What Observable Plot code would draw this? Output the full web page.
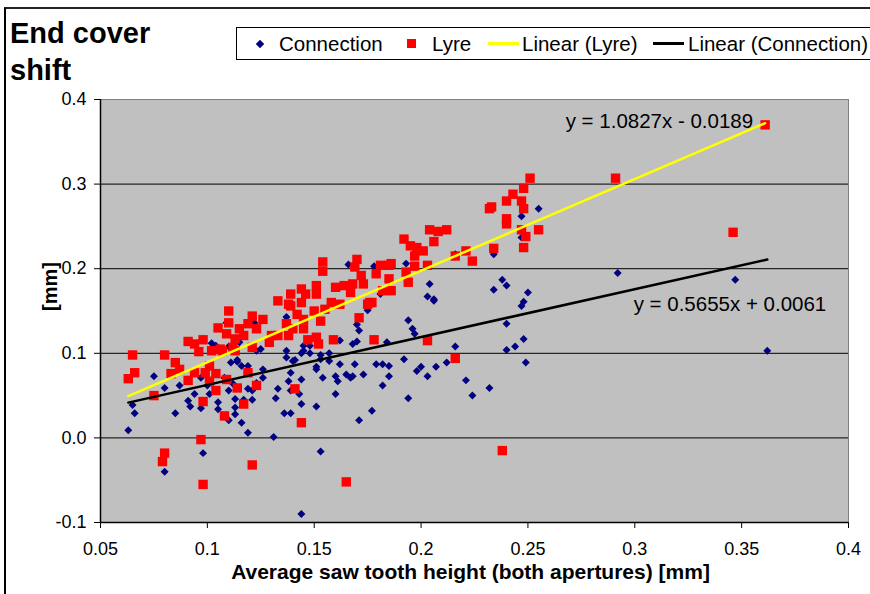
<!DOCTYPE html>
<html>
<head>
<meta charset="utf-8">
<script src="https://cdn.jsdelivr.net/npm/d3@7"></script>
<script src="https://cdn.jsdelivr.net/npm/@observablehq/plot@0.6"></script>
<style>
  body { margin: 0; background: #fff; }
  #wrap { position: relative; width: 870px; height: 594px; overflow: hidden;
          font-family: "Liberation Sans", Arial, sans-serif; color: #000; }
  #wrap svg.plot { position: absolute; left: 0; top: 0; }
  #border { position: absolute; left: 4px; top: 7px; width: 900px; height: 700px;
            border-left: 2px solid #000; border-top: 2px solid #222; }
  #title { position: absolute; left: 10px; top: 15px; font-weight: bold; font-size: 29px; line-height: 37px; }
  #legend { position: absolute; left: 236px; top: 27px; width: 640px; height: 31px;
            border: 1px solid #000; background: #fff; font-size: 20.5px; }
  #legend .it { position: absolute; top: 0; height: 31px; display: flex; align-items: center; white-space: nowrap; }
  .dia { width: 6px; height: 6px; background: #000080; transform: rotate(45deg); }
  .sq { width: 9px; height: 9px; background: #ff0000; }
  .ln { width: 31px; height: 2.5px; }
</style>
</head>
<body>
<div id="wrap">
  <div id="border"></div>
  <div id="title">End cover<br>shift</div>
  <div id="legend"></div>
</div>
<script>
// ---- data ----
const seriesNames = ["Connection", "Lyre", "Linear (Lyre)", "Linear (Connection)"];

const connX = [0.063,0.065,0.066,0.075,0.080,0.087,0.085,0.080,0.091,0.092,0.094,0.097,0.098,0.102,0.104,0.111,0.114,0.116,0.119,0.126,
  0.126,0.123,0.119,0.121,0.110,0.112,0.108,0.105,0.105,0.113,0.113,0.117,0.121,0.113,0.110,0.116,0.119,0.131,0.132,0.133,
  0.136,0.139,0.137,0.140,0.139,0.138,0.139,0.125,0.123,0.110,0.115,0.137,0.137,0.097,0.101,0.100,0.144,0.153,0.144,0.151,
  0.160,0.171,0.177,0.194,0.224,0.221,0.182,0.185,0.185,0.182,0.179,0.169,0.173,0.168,0.165,0.167,0.160,0.161,0.162,0.154,
  0.151,0.151,0.157,0.153,0.148,0.144,0.141,0.144,0.143,0.192,0.198,0.200,0.203,0.207,0.212,0.216,0.162,0.168,0.170,0.184,
  0.194,0.196,0.197,0.170,0.171,0.175,0.206,0.153,0.145,0.148,0.157,0.166,0.178,0.193,0.204,0.203,0.206,0.216,0.181,0.255,
  0.247,0.247,0.234,0.292,0.238,0.240,0.234,0.250,0.248,0.247,0.240,0.248,0.244,0.240,0.249,0.232,0.347,0.362,0.145,0.114,
  0.109,0.122];
const connY = [0.009,0.039,0.029,0.073,0.059,0.062,0.029,-0.040,0.044,0.037,0.052,0.035,-0.018,0.112,0.109,0.089,0.090,0.085,0.085,0.081,
  0.071,0.065,0.058,0.056,0.056,0.064,0.071,0.042,0.034,0.046,0.036,0.045,0.045,0.028,0.021,0.018,0.006,0.001,0.047,0.058,
  0.029,0.029,0.095,0.091,0.077,0.067,0.056,0.105,0.103,0.108,0.113,0.143,0.103,0.071,0.052,0.062,-0.090,-0.016,0.040,0.037,
  0.052,0.021,0.032,0.047,0.050,0.068,0.062,0.073,0.085,0.087,0.087,0.087,0.075,0.073,0.075,0.071,0.073,0.067,0.087,0.071,
  0.084,0.081,0.100,0.098,0.100,0.100,0.092,0.069,0.052,0.093,0.079,0.084,0.073,0.084,0.089,0.108,0.115,0.111,0.114,0.113,
  0.139,0.129,0.123,0.134,0.127,0.151,0.162,0.093,0.109,0.109,0.091,0.205,0.203,0.206,0.182,0.167,0.164,0.217,0.170,0.271,
  0.262,0.237,0.217,0.195,0.187,0.180,0.175,0.172,0.161,0.156,0.135,0.117,0.108,0.104,0.089,0.059,0.187,0.103,0.103,0.092,
  0.136,0.136];

const lyreX = [0.065,0.080,0.066,0.063,0.085,0.087,0.083,0.075,0.091,0.098,0.094,0.096,0.091,0.094,0.099,0.101,0.104,0.101,0.104,0.098,
  0.108,0.117,0.114,0.123,0.119,0.109,0.097,0.080,0.079,0.121,0.098,0.110,0.105,0.110,0.109,0.115,0.121,0.126,0.119,0.123,
  0.113,0.121,0.129,0.133,0.138,0.137,0.139,0.133,0.102,0.107,0.113,0.141,0.139,0.138,0.117,0.106,0.112,0.130,0.154,0.154,
  0.170,0.169,0.172,0.173,0.179,0.181,0.185,0.185,0.186,0.182,0.177,0.175,0.168,0.164,0.160,0.167,0.162,0.158,0.151,0.144,
  0.146,0.151,0.144,0.150,0.155,0.142,0.145,0.153,0.140,0.145,0.147,0.151,0.152,0.159,0.171,0.178,0.204,0.208,0.212,0.192,
  0.195,0.198,0.201,0.197,0.206,0.203,0.197,0.193,0.194,0.216,0.221,0.224,0.251,0.248,0.243,0.240,0.247,0.233,0.232,0.248,
  0.240,0.240,0.247,0.255,0.249,0.248,0.234,0.291,0.361,0.346,0.238,0.203,0.216,0.144,0.165,0.186,0.176];
const lyreY = [0.098,0.098,0.077,0.070,0.089,0.081,0.076,0.050,0.114,0.116,0.111,0.102,0.068,0.077,0.077,0.085,0.076,0.067,0.056,0.043,
  0.026,0.040,0.059,0.062,0.077,0.069,-0.002,-0.018,-0.028,-0.032,-0.055,0.150,0.130,0.136,0.123,0.129,0.144,0.140,0.135,0.129,
  0.117,0.107,0.113,0.121,0.121,0.135,0.156,0.162,0.103,0.103,0.103,0.058,0.170,0.158,0.121,0.105,0.107,0.121,0.208,0.197,
  0.211,0.202,0.192,0.182,0.194,0.204,0.204,0.188,0.174,0.174,0.160,0.158,0.182,0.180,0.178,0.172,0.158,0.160,0.180,0.176,
  0.170,0.170,0.160,0.150,0.152,0.146,0.140,0.138,0.129,0.129,0.116,0.119,0.111,0.116,0.142,0.116,0.246,0.244,0.246,0.235,
  0.227,0.225,0.221,0.215,0.232,0.204,0.203,0.196,0.184,0.215,0.221,0.209,0.307,0.295,0.288,0.280,0.280,0.273,0.271,0.271,
  0.259,0.253,0.246,0.246,0.238,0.225,0.224,0.307,0.370,0.243,-0.015,0.115,0.094,0.018,-0.052,0.206,0.160];

// trendline coefficients [slope, intercept] and their equation labels
const lyreCoef = [1.0827, -0.0189];
const connCoef = [0.5655, 0.0061];
const eqLabels = ["y = 1.0827x - 0.0189", "y = 0.5655x + 0.0061"];

// axes
const xTicks = [0.05, 0.1, 0.15, 0.2, 0.25, 0.3, 0.35, 0.4];
const xTickLabels = ["0.05", "0.1", "0.15", "0.2", "0.25", "0.3", "0.35", "0.4"];
const yTicks = [-0.1, 0, 0.1, 0.2, 0.3, 0.4];
const yTickLabels = ["-0.1", "0.0", "0.1", "0.2", "0.3", "0.4"];
const xTitle = "Average saw tooth height (both apertures) [mm]";
const yTitle = "[mm]";

// ---- build ----
const conn = connX.map((x, i) => ({x, y: connY[i]}));
const lyre = lyreX.map((x, i) => ({x, y: lyreY[i]}));
const fit = (xs, [m, b]) => [d3.min(xs), d3.max(xs)].map(x => ({x, y: m * x + b}));
const lyreLine = fit(lyreX, lyreCoef);
const connLine = fit(connX, connCoef);

const chart = Plot.plot({
  width: 870, height: 594,
  marginLeft: 100, marginRight: 22, marginTop: 99, marginBottom: 72,
  x: {domain: [0.05, 0.4]},
  y: {domain: [-0.1, 0.4]},
  style: {background: "transparent", fontFamily: "'Liberation Sans', Arial, sans-serif", color: "#000"},
  marks: [
    Plot.frame({fill: "#c0c0c0", stroke: "#808080"}),
    Plot.ruleY(yTicks.slice(1, -1), {stroke: "#000", strokeWidth: 1}),
    Plot.ruleX([xTicks[0]], {stroke: "#000", strokeWidth: 1.5}),
    Plot.ruleY([yTicks[0]], {stroke: "#000", strokeWidth: 1.5}),
    Plot.axisY({ticks: yTicks, tickFormat: (d, i) => yTickLabels[i], tickSize: 6, tickPadding: 8, fontSize: 18, label: null}),
    Plot.axisX({ticks: xTicks, tickFormat: (d, i) => xTickLabels[i], tickSize: 6, tickPadding: 14, fontSize: 18, label: null}),
    Plot.dot(conn, {x: "x", y: "y", symbol: "diamond2", r: 3.6, fill: "#000080", stroke: "none"}),
    Plot.dot(lyre, {x: "x", y: "y", symbol: "square", r: 5.3, fill: "#ff0000", stroke: "none"}),
    Plot.line(lyreLine, {x: "x", y: "y", stroke: "#ffff00", strokeWidth: 2.5}),
    Plot.line(connLine, {x: "x", y: "y", stroke: "#000", strokeWidth: 2.5}),
    Plot.text([lyreLine[1]], {x: "x", y: "y", text: () => eqLabels[0], textAnchor: "end", dx: -12, dy: -2, fontSize: 20.5}),
    Plot.text([connLine[1]], {x: "x", y: "y", text: () => eqLabels[1], textAnchor: "end", dx: 59, dy: 45, fontSize: 20.5}),
    Plot.text([yTitle], {frameAnchor: "left", rotate: -90, dx: -50, fontWeight: "bold", fontSize: 20}),
    Plot.text([xTitle], {frameAnchor: "bottom", dx: -4, dy: 56, fontWeight: "bold", fontSize: 21})
  ]
});
chart.classList.add("plot");
document.getElementById("wrap").insertBefore(chart, document.getElementById("border"));

// legend
const legend = document.getElementById("legend");
const items = [
  {left: 20, sw: '<span class="dia"></span>', text: seriesNames[0], gap: 16},
  {left: 170, sw: '<span class="sq"></span>', text: seriesNames[1], gap: 16},
  {left: 251, sw: '<span class="ln" style="background:#ffff00"></span>', text: seriesNames[2], gap: 3},
  {left: 416, sw: '<span class="ln" style="background:#000"></span>', text: seriesNames[3], gap: 4}
];
for (const it of items) {
  const el = document.createElement("div");
  el.className = "it";
  el.style.left = it.left + "px";
  el.innerHTML = it.sw + `<span style="margin-left:${it.gap}px">${it.text}</span>`;
  legend.appendChild(el);
}
</script>
</body>
</html>
